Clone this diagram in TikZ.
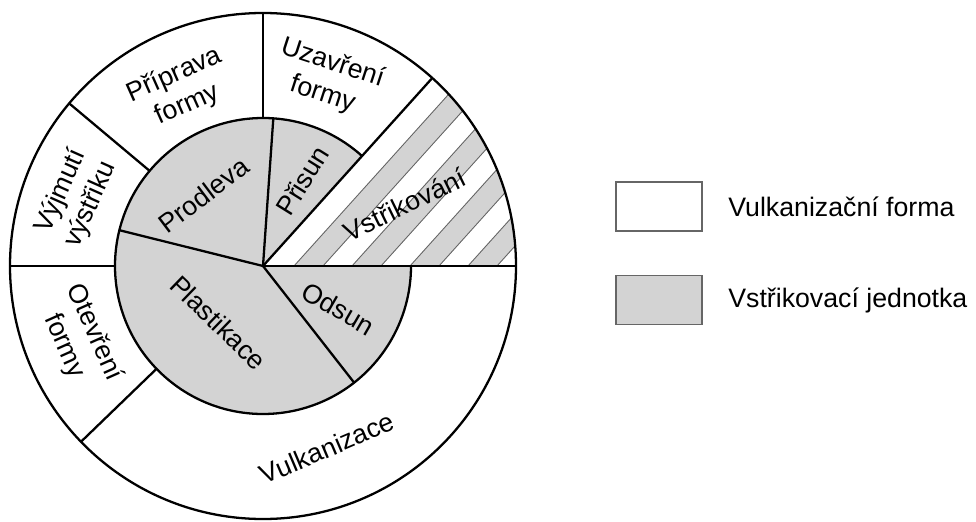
\documentclass[tikz,border=0pt]{standalone}
\usepackage{fontspec}
\setmainfont{Liberation Sans}
\definecolor{unitgray}{RGB}{211,211,211}
\definecolor{hatchgray}{RGB}{100,100,100}
\tikzset{
  seg/.style={line width=1.3pt},
  lbl/.style={font=\fontsize{15.2}{18.5}\selectfont, align=center, inner sep=0pt},
  legbox/.style={draw=black!60, line width=0.9pt, minimum width=1.72cm, minimum height=0.98cm, inner sep=0pt},
}
\begin{document}
\begin{tikzpicture}
\useasboundingbox (-5.26,-5.10) rectangle (14.26,5.32);
\def\R{5.06}
\def\r{2.96}

% Vstrikovani: hatched sector 0..48
\begin{scope}
  \clip (0,0) -- (0:\R) arc (0:48:\R) -- cycle;
  \foreach \a in {0.62,1.78,2.94,4.10} {
    \fill[unitgray] (\a,0) -- ++(0.58,0) -- ++(48:8) -- ++(-0.58,0) -- cycle;
  }
  \foreach \k in {0,...,7} {
    \draw[hatchgray, line width=0.5pt] ({0.62+0.58*\k},0) -- ++(48:8);
  }
\end{scope}

% Inner sectors (injection unit)
\fill[unitgray] (0,0) -- (48:\r) arc (48:360:\r) -- cycle;

% Circles
\draw[seg] (0,0) circle (\R);
\draw[seg] (48:\r) arc (48:360:\r);

% Radial lines through the whole circle
\draw[seg] (0,0) -- (0:\R);
\draw[seg] (0,0) -- (48:\R);

% Inner radial lines
\draw[seg] (0,0) -- (86:\r);
\draw[seg] (0,0) -- (166:\r);
\draw[seg] (0,0) -- (308:\r);

% Outer ring lines
\draw[seg] (90:\r) -- (90:\R);
\draw[seg] (140:\r) -- (140:\R);
\draw[seg] (180:\r) -- (180:\R);
\draw[seg] (224:\r) -- (224:\R);

% Outer ring labels
\node[lbl, rotate=24] (priprava) at (-1.64,3.52) {Příprava\\formy};
\node[lbl, rotate=-18] (uzavreni) at (1.29,3.74) {Uzavření\\formy};
\node[lbl, rotate=66] (vyjmuti) at (-3.74,1.36) {Výjmutí\\výstřiku};
\node[lbl, rotate=-66] (otevreni) at (-3.68,-1.47) {Otevření\\formy};
\node[lbl, rotate=23] (vulkanizace) at (1.28,-3.64) {Vulkanizace};
\node[lbl, rotate=26] (vstrikovani) at (2.84,1.23) {Vstřikování};

% Inner labels
\node[lbl, rotate=58] (prisun) at (0.79,1.71) {Přisun};
\node[lbl, rotate=37] (prodleva) at (-1.19,1.42) {Prodleva};
\node[lbl, rotate=-44] (plastikace) at (-0.89,-1.13) {Plastikace};
\node[lbl, rotate=-30] (odsun) at (1.51,-0.85) {Odsun};

% Legend
\node[legbox, fill=white] (formbox) at (7.92,1.19) {};
\node[legbox, fill=unitgray] (unitbox) at (7.92,-0.68) {};
\node[lbl, anchor=west] (formtext) at (9.30,1.19) {Vulkanizační forma};
\node[lbl, anchor=west] (unittext) at (9.30,-0.68) {Vstřikovací jednotka};
\end{tikzpicture}
\end{document}
